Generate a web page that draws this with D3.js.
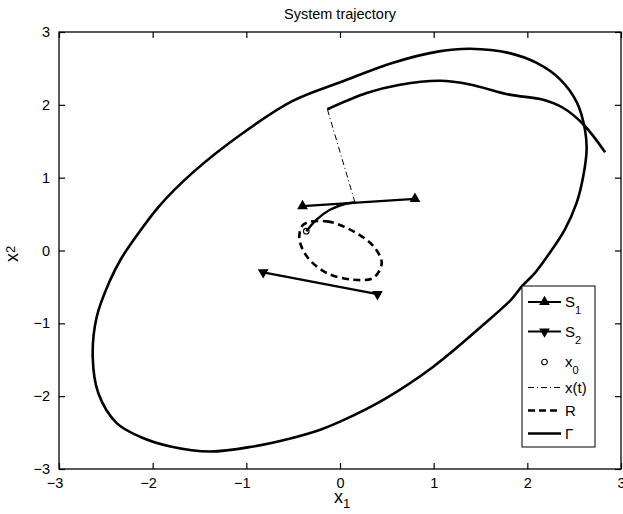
<!DOCTYPE html>
<html>
<head>
<meta charset="utf-8">
<script src="https://cdn.jsdelivr.net/npm/d3@7"></script>
<style>
  body { margin: 0; background: #fff; }
  text { font-family: "Liberation Sans", Arial, Helvetica, sans-serif; fill: #000; }
</style>
</head>
<body>
<div class="chart"></div>
<script>
// chart data
// ==========================================================================
var xTicks = [-3, -2, -1, 0, 1, 2, 3];
var yTicks = [-3, -2, -1, 0, 1, 2, 3];

// switching lines
var s1 = [[-0.40, 0.61], [0.80, 0.71]];
var s2 = [[-0.82, -0.30], [0.40, -0.60]];

// initial state
var x0 = [-0.36, 0.265];

// trajectory: from x0 up to S1, the jump, then the rest
var trajStart = [[-0.36, 0.265], [-0.25, 0.425], [-0.107, 0.56], [0.07, 0.645], [0.16, 0.66]];
var trajJump = [[0.16, 0.66], [-0.135, 1.94]];
var trajEnd = [[-0.135, 1.94], [0.285, 2.163], [0.64, 2.277], [1.07, 2.33], [1.387, 2.28],
  [1.81, 2.14], [2.17, 2.07], [2.38, 1.96], [2.6, 1.73], [2.83, 1.35]];

// region R (dashed closed curve)
var regionR = [[-0.39, 0.357], [-0.14, 0.40], [0.14, 0.265], [0.356, 0.06], [0.445, -0.17],
  [0.356, -0.375], [0.14, -0.40], [-0.14, -0.31], [-0.355, -0.08], [-0.434, 0.17]];

// limit cycle Gamma
var gamma = [[1.39, 2.77], [1.81, 2.71], [2.10, 2.575], [2.35, 2.35], [2.53, 2.03], [2.615, 1.66],
  [2.633, 1.385], [2.597, 1.02], [2.526, 0.654], [2.40, 0.288], [2.24, -0.03], [2.08, -0.31],
  [1.95, -0.48], [1.83, -0.67], [1.53, -1.02], [0.996, -1.595], [0.462, -2.05], [0.0, -2.35],
  [-0.21, -2.46], [-0.53, -2.58], [-0.925, -2.69], [-1.387, -2.76], [-1.81, -2.69], [-2.13, -2.56],
  [-2.384, -2.37], [-2.58, -1.96], [-2.64, -1.46], [-2.597, -0.91], [-2.455, -0.41], [-2.34, -0.12],
  [-2.2, 0.15], [-1.93, 0.61], [-1.576, 1.066], [-1.04, 1.61], [-0.51, 2.05], [0.025, 2.32],
  [0.558, 2.575], [1.057, 2.734]];

var legendItems = [
  { label: "S", sub: "1", kind: "s1" },
  { label: "S", sub: "2", kind: "s2" },
  { label: "x", sub: "0", kind: "x0" },
  { label: "x(t)", sub: "", kind: "traj" },
  { label: "R", sub: "", kind: "region" },
  { label: "\u0393", sub: "", kind: "gamma" }
];

// set up chart configurations
// ==========================================================================
var svgWidth = 623;
var svgHeight = 514;

var margin = { top: 32, right: 2, bottom: 45, left: 59 };
var width = svgWidth - margin.left - margin.right;
var height = svgHeight - margin.top - margin.bottom;

var svg = d3.select(".chart")
  .append("svg")
  .attr("width", svgWidth)
  .attr("height", svgHeight);

var chartGroup = svg.append("g")
  .attr("transform", `translate(${margin.left}, ${margin.top})`);

var xScale = d3.scaleLinear().domain([-3, 3]).range([0, width]);
var yScale = d3.scaleLinear().domain([-3, 3]).range([height, 0]);

var fmt = d => d < 0 ? "\u2212" + Math.abs(d) : String(d);

// axes: ticks inward on all sides
var bottomAxis = d3.axisBottom(xScale).tickValues(xTicks).tickSizeInner(-6).tickSizeOuter(0).tickPadding(8.5).tickFormat(fmt);
var topAxis = d3.axisTop(xScale).tickValues(xTicks).tickSizeInner(-6).tickSizeOuter(0).tickFormat("");
var leftAxis = d3.axisLeft(yScale).tickValues(yTicks).tickSizeInner(-6).tickSizeOuter(0).tickPadding(9).tickFormat(fmt);
var rightAxis = d3.axisRight(yScale).tickValues(yTicks).tickSizeInner(-6).tickSizeOuter(0).tickFormat("");

function styleAxis(g) {
  g.selectAll("line").attr("stroke", "#000").attr("stroke-width", 1.2);
  g.select(".domain").remove();
  g.selectAll("text").style("font-size", "14.5px").attr("fill", "#000");
}

var xAxisG = chartGroup.append("g").attr("transform", `translate(0, ${height})`).call(bottomAxis).call(styleAxis);
chartGroup.append("g").call(topAxis).call(styleAxis);
chartGroup.append("g").call(leftAxis).call(styleAxis);
chartGroup.append("g").attr("transform", `translate(${width}, 0)`).call(rightAxis).call(styleAxis);

// minus-sign labels under the x axis sit a bit to the left in the reference
xAxisG.selectAll("text").filter(d => d < 0).attr("dx", -4.5);

// line generators
var lineGen = d3.line().x(d => xScale(d[0])).y(d => yScale(d[1]));
var smoothGen = d3.line().x(d => xScale(d[0])).y(d => yScale(d[1])).curve(d3.curveCatmullRom);
var loopGen = d3.line().x(d => xScale(d[0])).y(d => yScale(d[1])).curve(d3.curveCatmullRomClosed);

var plot = chartGroup.append("g");

plot.append("path").attr("d", loopGen(gamma))
  .attr("fill", "none").attr("stroke", "#000").attr("stroke-width", 2.6);

plot.append("path").attr("d", loopGen(regionR))
  .attr("fill", "none").attr("stroke", "#000").attr("stroke-width", 2.6)
  .attr("stroke-dasharray", "7,4.5");

plot.append("path").attr("d", smoothGen(trajStart))
  .attr("fill", "none").attr("stroke", "#000").attr("stroke-width", 2.4);
plot.append("path").attr("d", lineGen(trajJump))
  .attr("fill", "none").attr("stroke", "#000").attr("stroke-width", 1)
  .attr("stroke-dasharray", "6,3,1,3");
plot.append("path").attr("d", smoothGen(trajEnd))
  .attr("fill", "none").attr("stroke", "#000").attr("stroke-width", 2.6);

var triUp = d3.symbol().type(d3.symbolTriangle).size(50);

function drawSwitch(data, flip) {
  plot.append("path").attr("d", lineGen(data))
    .attr("fill", "none").attr("stroke", "#000").attr("stroke-width", 2.2);
  plot.selectAll(null)
    .data(data)
    .enter()
    .append("path")
    .attr("d", triUp())
    .attr("transform", d => `translate(${xScale(d[0])}, ${yScale(d[1])})` + (flip ? " rotate(180)" : ""))
    .attr("fill", "#000");
}
drawSwitch(s1, false);
drawSwitch(s2, true);

plot.append("circle")
  .attr("cx", xScale(x0[0]))
  .attr("cy", yScale(x0[1]))
  .attr("r", 2.8)
  .attr("fill", "none")
  .attr("stroke", "#000")
  .attr("stroke-width", 1.1);

// frame
chartGroup.append("rect")
  .attr("width", width).attr("height", height)
  .attr("fill", "none").attr("stroke", "#000").attr("stroke-width", 1.3);

// legend
var legend = chartGroup.append("g")
  .attr("transform", `translate(${522 - margin.left}, ${286 - margin.top})`);
legend.append("rect")
  .attr("width", 73).attr("height", 161)
  .attr("fill", "#fff").attr("stroke", "#000").attr("stroke-width", 1);

var rowY = [16, 45.5, 76, 101.5, 124.5, 147.5];
legendItems.forEach(function(item, i) {
  var g = legend.append("g").attr("transform", `translate(0, ${rowY[i]})`);
  if (item.kind === "s1" || item.kind === "s2") {
    g.append("line").attr("x1", 6).attr("x2", 39).attr("stroke", "#000").attr("stroke-width", 2.2);
    g.append("path").attr("d", triUp())
      .attr("transform", "translate(22.5, 0)" + (item.kind === "s2" ? " rotate(180)" : ""))
      .attr("fill", "#000");
  } else if (item.kind === "x0") {
    g.append("circle").attr("cx", 22.5).attr("r", 2.8)
      .attr("fill", "none").attr("stroke", "#000").attr("stroke-width", 1.1);
  } else if (item.kind === "traj") {
    g.append("line").attr("x1", 6).attr("x2", 39).attr("stroke", "#000").attr("stroke-width", 1)
      .attr("stroke-dasharray", "6,3,1,3");
  } else if (item.kind === "region") {
    g.append("line").attr("x1", 6).attr("x2", 39).attr("stroke", "#000").attr("stroke-width", 2.6)
      .attr("stroke-dasharray", "7,4");
  } else {
    g.append("line").attr("x1", 6).attr("x2", 39).attr("stroke", "#000").attr("stroke-width", 2.4);
  }
  var t = g.append("text").attr("x", 43).attr("y", 5).style("font-size", "15px").text(item.label);
  if (item.sub) {
    t.append("tspan").attr("dy", 7).style("font-size", "11px").text(item.sub);
  }
});

// title
svg.append("text")
  .attr("x", margin.left + width / 2)
  .attr("y", 19)
  .attr("text-anchor", "middle")
  .style("font-size", "14.5px")
  .text("System trajectory");

// axis labels
var xLabel = svg.append("text")
  .attr("x", 334)
  .attr("y", 503)
  .style("font-size", "18px")
  .text("x");
xLabel.append("tspan").attr("dy", 5).style("font-size", "13px").text("1");

var yLabel = svg.append("text")
  .attr("transform", "translate(18, 262) rotate(-90)")
  .style("font-size", "18px")
  .text("x");
yLabel.append("tspan").attr("dy", -3).style("font-size", "13px").text("2");
</script>
</body>
</html>
